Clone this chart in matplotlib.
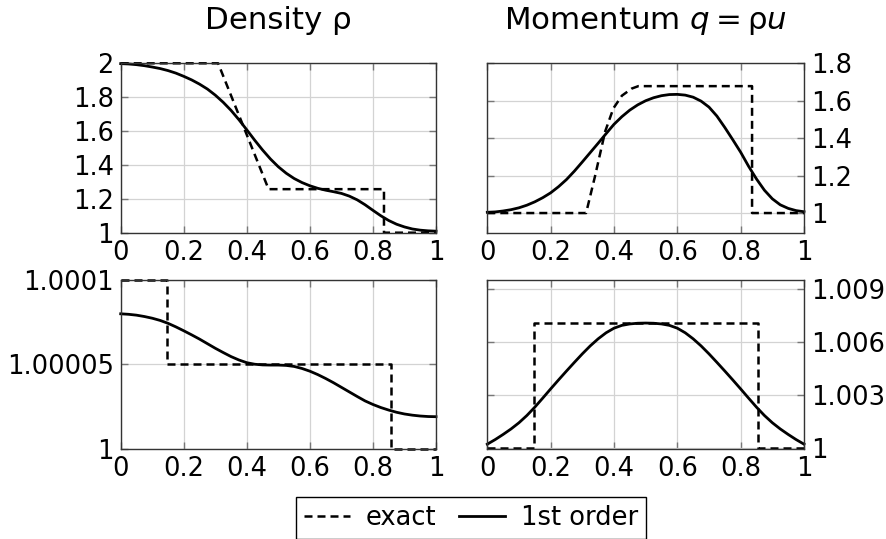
import numpy as np
import matplotlib
matplotlib.use("Agg")
import matplotlib.pyplot as plt
from matplotlib.lines import Line2D

plt.rcParams['font.family'] = ['DejaVu Sans']
plt.rcParams['font.size'] = 18.5
plt.rcParams['mathtext.fontset'] = 'dejavusans'

# x positions of the 1st order samples (read every 0.025)
x = [0.0, 0.025, 0.05, 0.075, 0.1, 0.125, 0.15, 0.175, 0.2, 0.225, 0.25,
     0.275, 0.3, 0.325, 0.35, 0.375, 0.4, 0.425, 0.45, 0.475, 0.5,
     0.525, 0.55, 0.575, 0.6, 0.625, 0.65, 0.675, 0.7, 0.725, 0.75,
     0.775, 0.8, 0.825, 0.85, 0.875, 0.9, 0.925, 0.95, 0.975, 1.0]

# top row: density / momentum
rho_num = [1.998, 1.996, 1.992, 1.986, 1.978, 1.969, 1.957, 1.942, 1.923, 1.902, 1.877,
           1.848, 1.812, 1.770, 1.722, 1.667, 1.607, 1.546, 1.488, 1.435, 1.389,
           1.351, 1.320, 1.296, 1.277, 1.262, 1.251, 1.242, 1.232, 1.216, 1.194,
           1.165, 1.132, 1.100, 1.072, 1.050, 1.034, 1.022, 1.015, 1.011, 1.009]
rho_ex_x = [0, 0.309, 0.469, 0.835, 0.835, 1]
rho_ex = [2, 2, 1.257, 1.257, 1, 1]

q_num = [1.004, 1.006, 1.011, 1.018, 1.028, 1.042, 1.060, 1.082, 1.108, 1.141, 1.179,
         1.224, 1.273, 1.323, 1.373, 1.424, 1.474, 1.515, 1.550, 1.578, 1.600,
         1.616, 1.627, 1.633, 1.634, 1.630, 1.619, 1.598, 1.566, 1.518, 1.457,
         1.392, 1.325, 1.250, 1.182, 1.122, 1.076, 1.044, 1.025, 1.013, 1.007]
q_ex_x = [0, 0.312, 0.340, 0.372, 0.398, 0.425, 0.456, 0.477, 0.836, 0.836, 1]
q_ex = [1, 1, 1.196, 1.435, 1.559, 1.627, 1.665, 1.678, 1.678, 1, 1]

# bottom row: small perturbation
rho2_num = [1.0000798, 1.0000795, 1.000079, 1.0000782, 1.0000772, 1.0000759, 1.0000742,
            1.0000721, 1.0000698, 1.0000674, 1.0000649, 1.0000622, 1.0000595, 1.000057,
            1.0000546, 1.0000526, 1.000051, 1.0000501, 1.0000497, 1.0000496, 1.0000496,
            1.0000494, 1.0000488, 1.0000476, 1.000046, 1.000044, 1.0000417, 1.0000392,
            1.0000365, 1.0000338, 1.0000311, 1.0000285, 1.0000264, 1.0000246, 1.0000231,
            1.0000218, 1.0000208, 1.0000201, 1.0000196, 1.0000193, 1.0000192]
rho2_ex_x = [0, 0.148, 0.148, 0.856, 0.856, 1]
rho2_ex = [1.0001, 1.0001, 1.00005, 1.00005, 1, 1]

q2_num = [1.00024, 1.0005, 1.00079, 1.0011, 1.00145, 1.00186, 1.00233, 1.00284, 1.00336,
          1.00387, 1.00437, 1.00486, 1.00534, 1.00579, 1.00619, 1.00653, 1.00679,
          1.00695, 1.00703, 1.00707, 1.00708, 1.00707, 1.00703, 1.00695, 1.00679,
          1.00653, 1.00619, 1.00579, 1.00534, 1.00486, 1.00437, 1.00387, 1.00336,
          1.00284, 1.00233, 1.00186, 1.00145, 1.0011, 1.00079, 1.0005, 1.00024]
q2_ex_x = [0, 0.148, 0.148, 0.854, 0.854, 1]
q2_ex = [1, 1, 1.00711, 1.00711, 1, 1]

xticks = [0, 0.2, 0.4, 0.6, 0.8, 1]
xticklabels = ['0', '0.2', '0.4', '0.6', '0.8', '1']

fig = plt.figure(figsize=(8.87, 5.39), dpi=100)
W, H = 887, 539

def make_ax(l, r, t, b):
    return fig.add_axes([l / W, 1 - b / H, (r - l) / W, (b - t) / H])

ax_tl = make_ax(120.7, 436, 63.3, 232.7)
ax_tr = make_ax(487.3, 804, 63.3, 232.7)
ax_bl = make_ax(120.7, 436, 279.5, 449.3)
ax_br = make_ax(487.3, 804, 279.5, 449.3)

dash_kw = dict(color='black', lw=1.8, dashes=(3.2, 2.0))
solid_kw = dict(color='black', lw=2.0)

def style(ax, right=False):
    ax.set_xlim(0, 1)
    ax.set_xticks(xticks)
    ax.set_xticklabels(xticklabels)
    ax.grid(True, color='#d3d3d3', lw=0.9)
    ax.set_axisbelow(True)
    ax.tick_params(direction='in', length=5, width=1, color='#777777',
                   top=True, right=True, left=True, bottom=True, pad=5)
    if right:
        ax.yaxis.tick_right()
        ax.tick_params(axis='y', left=True, right=True, direction='in')
    for s in ax.spines.values():
        s.set_linewidth(1)
        s.set_color('#333333')

def draw(ax, ex_x, ex_y, num_y):
    ax.plot(ex_x, ex_y, clip_on=False, **dash_kw)
    ax.plot(x, num_y, clip_on=False, **solid_kw)

draw(ax_tl, rho_ex_x, rho_ex, rho_num)
style(ax_tl)
ax_tl.set_ylim(1, 2)
ax_tl.set_yticks([1, 1.2, 1.4, 1.6, 1.8, 2])
ax_tl.set_yticklabels(['1', '1.2', '1.4', '1.6', '1.8', '2'])
ax_tl.set_title('Density ρ', pad=25)

draw(ax_tr, q_ex_x, q_ex, q_num)
style(ax_tr, right=True)
ax_tr.set_ylim(0.895, 1.8)
ax_tr.set_yticks([1, 1.2, 1.4, 1.6, 1.8])
ax_tr.set_yticklabels(['1', '1.2', '1.4', '1.6', '1.8'])
ax_tr.set_title(r'Momentum $q=\mathrm{\rho}u$', pad=25)

draw(ax_bl, rho2_ex_x, rho2_ex, rho2_num)
style(ax_bl)
ax_bl.set_ylim(1, 1.0001)
ax_bl.set_yticks([1, 1.00005, 1.0001])
ax_bl.set_yticklabels(['1', '1.00005', '1.0001'])

draw(ax_br, q2_ex_x, q2_ex, q2_num)
style(ax_br, right=True)
ax_br.set_ylim(0.99995, 1.00954)
ax_br.set_yticks([1, 1.003, 1.006, 1.009])
ax_br.set_yticklabels(['1', '1.003', '1.006', '1.009'])

handles = [Line2D([], [], **dash_kw), Line2D([], [], **solid_kw)]
leg = fig.legend(handles, ['exact', '1st order'], loc='center',
                 bbox_to_anchor=(471 / W, 1 - 518 / H), ncol=2,
                 frameon=True, fancybox=False, framealpha=1,
                 edgecolor='black', handlelength=1.8, handletextpad=0.6,
                 columnspacing=0.9, borderpad=0.3)
leg.get_frame().set_linewidth(1)

fig.savefig('out.png', dpi=100)
